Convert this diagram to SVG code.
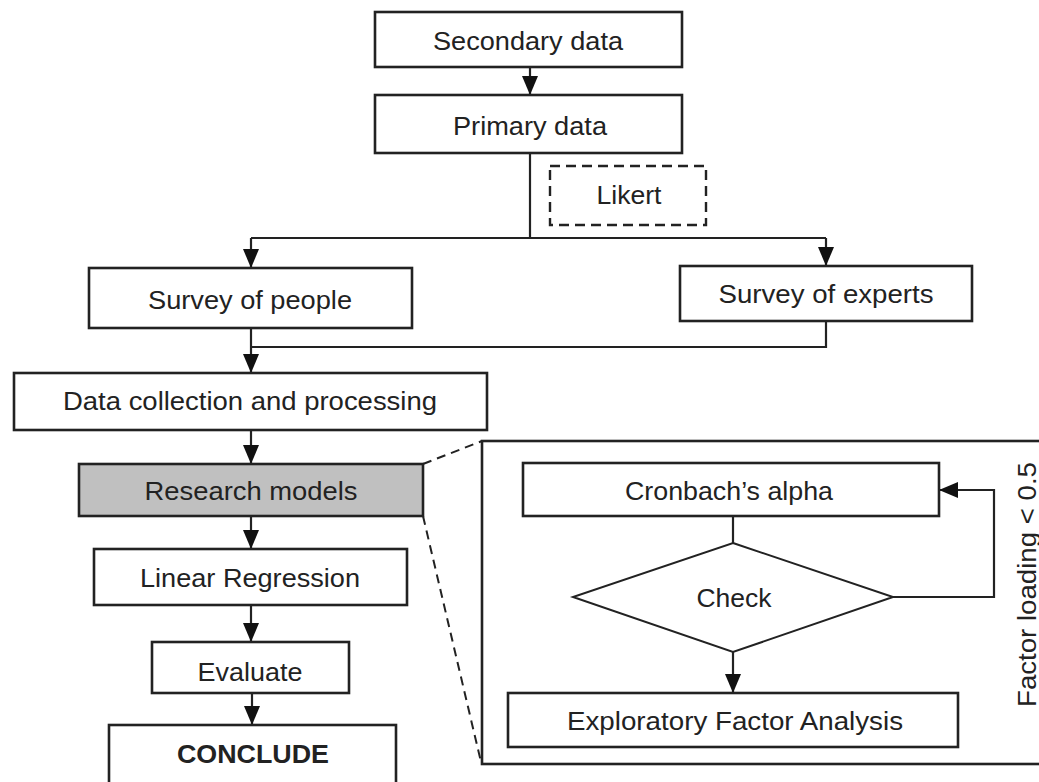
<svg xmlns="http://www.w3.org/2000/svg" width="1039" height="782" viewBox="0 0 1039 782">
<defs>
<marker id="arr" markerUnits="userSpaceOnUse" markerWidth="20" markerHeight="18" refX="19" refY="9" orient="auto"><path d="M0,1 L19,9 L0,17 z" fill="#111"/></marker>
<style>
.box{fill:#fff;stroke:#222;stroke-width:2.6}
.dash{fill:#fff;stroke:#222;stroke-width:2.4;stroke-dasharray:10 6}
.ln{fill:none;stroke:#222;stroke-width:2.2}
.dl{fill:none;stroke:#222;stroke-width:2;stroke-dasharray:9 6}
text{font-family:"Liberation Sans",Arial,sans-serif;font-size:25.5px;fill:#222;text-anchor:middle}
.b{font-weight:bold}
</style>
</defs>
<rect width="1039" height="782" fill="#fff"/>
<g id="connectors">
<line class="ln" x1="530" y1="67" x2="530" y2="95" marker-end="url(#arr)"/>
<polyline class="ln" points="530,153 530,238"/>
<polyline class="ln" points="251,238 826,238"/>
<line class="ln" x1="251" y1="238" x2="251" y2="268" marker-end="url(#arr)"/>
<line class="ln" x1="826" y1="238" x2="826" y2="266" marker-end="url(#arr)"/>
<line class="ln" x1="251" y1="328" x2="251" y2="373" marker-end="url(#arr)"/>
<polyline class="ln" points="826,321 826,347 251,347"/>
<line class="ln" x1="251" y1="430" x2="251" y2="464" marker-end="url(#arr)"/>
<line class="ln" x1="251" y1="516" x2="251" y2="549" marker-end="url(#arr)"/>
<line class="ln" x1="251" y1="605" x2="251" y2="642" marker-end="url(#arr)"/>
<line class="ln" x1="252" y1="693" x2="252" y2="725" marker-end="url(#arr)"/>
<line class="dl" x1="423" y1="464" x2="482" y2="441"/>
<line class="dl" x1="423" y1="516" x2="481" y2="762"/>
<line class="ln" x1="733" y1="516" x2="733" y2="543"/>
<line class="ln" x1="733" y1="652" x2="733" y2="693" marker-end="url(#arr)"/>
<polyline class="ln" points="893,597 994,597 994,490 939,490" marker-end="url(#arr)"/>
</g>
<g id="secondary"><rect class="box" x="375" y="12" width="307" height="55"/><text x="528" y="50" textLength="190" lengthAdjust="spacingAndGlyphs">Secondary data</text></g>
<g id="primary"><rect class="box" x="375" y="95" width="307" height="58"/><text x="530" y="135" textLength="154" lengthAdjust="spacingAndGlyphs">Primary data</text></g>
<g id="likert"><rect class="dash" x="550" y="166" width="156" height="59"/><text x="629" y="204" textLength="65" lengthAdjust="spacingAndGlyphs">Likert</text></g>
<g id="survey-people"><rect class="box" x="89" y="268" width="323" height="60"/><text x="250" y="309" textLength="204" lengthAdjust="spacingAndGlyphs">Survey of people</text></g>
<g id="survey-experts"><rect class="box" x="680" y="266" width="292" height="55"/><text x="826" y="303" textLength="215" lengthAdjust="spacingAndGlyphs">Survey of experts</text></g>
<g id="data-collection"><rect class="box" x="14" y="373" width="473" height="57"/><text x="250" y="410" textLength="374" lengthAdjust="spacingAndGlyphs">Data collection and processing</text></g>
<g id="research-models"><rect class="box" x="79" y="464" width="344" height="52" style="fill:#c0c0c0"/><text x="251" y="500" textLength="213" lengthAdjust="spacingAndGlyphs">Research models</text></g>
<g id="linear-regression"><rect class="box" x="94" y="549" width="313" height="56"/><text x="250" y="587" textLength="220" lengthAdjust="spacingAndGlyphs">Linear Regression</text></g>
<g id="evaluate"><rect class="box" x="152" y="642" width="197" height="51"/><text x="250" y="681" textLength="105" lengthAdjust="spacingAndGlyphs">Evaluate</text></g>
<g id="conclude"><rect class="box" x="109" y="725" width="287" height="70"/><text class="b" x="253" y="763" textLength="152" lengthAdjust="spacingAndGlyphs">CONCLUDE</text></g>
<g id="detail-panel"><rect class="box" x="482" y="441" width="570" height="323" style="fill:none"/></g>
<g id="cronbach"><rect class="box" x="523" y="463" width="416" height="53"/><text x="729" y="500" textLength="208" lengthAdjust="spacingAndGlyphs">Cronbach’s alpha</text></g>
<g id="check"><polygon class="box" points="733,543 893,597 733,652 573,597" style="stroke-width:2"/><text x="734" y="607" textLength="75" lengthAdjust="spacingAndGlyphs">Check</text></g>
<g id="efa"><rect class="box" x="508" y="693" width="450" height="54"/><text x="735" y="730" textLength="336" lengthAdjust="spacingAndGlyphs">Exploratory Factor Analysis</text></g>
<g id="factor-label"><text x="0" y="0" transform="translate(1036,707) rotate(-90)" style="text-anchor:start" textLength="245" lengthAdjust="spacingAndGlyphs">Factor loading &lt; 0.5</text></g>
</svg>
